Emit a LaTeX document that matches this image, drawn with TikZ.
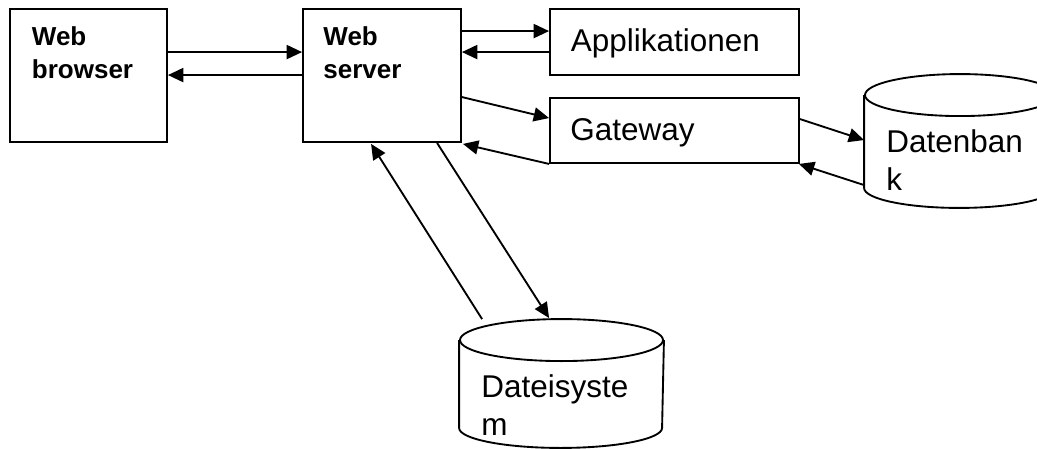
\documentclass[tikz,border=0pt]{standalone}
\usepackage{fontspec}
\setmainfont{Liberation Sans}
\usetikzlibrary{arrows.meta,calc}

\begin{document}
\begin{tikzpicture}[x=0.75pt,y=-0.75pt,line width=1.4pt,
  box/.style={draw, rectangle, inner sep=0pt},
  store/.style={rectangle, inner sep=0pt},
  flow/.style={-{Triangle[length=11.5pt,width=10.5pt]}},
  boldlabel/.style={anchor=base west, inner sep=0pt, align=left,
    font=\bfseries\fontsize{19.5}{24.75}\selectfont},
  plainlabel/.style={anchor=base west, inner sep=0pt, align=left,
    font=\fontsize{23.6}{28.1}\selectfont}]

\useasboundingbox (0,0) rectangle (1037,449);
\clip (0,0) rectangle (1037,449);

% boxes
\node[box, minimum width=157*0.75pt, minimum height=133*0.75pt] (browser) at (88.5,75.5) {};
\node[box, minimum width=158*0.75pt, minimum height=133*0.75pt] (server) at (382,75.5) {};
\node[box, minimum width=249*0.75pt, minimum height=66*0.75pt] (app) at (674.5,42) {};
\node[box, minimum width=249*0.75pt, minimum height=65*0.75pt] (gw) at (674.5,130.5) {};

% data stores (cylinders)
\node[store, minimum width=190*0.75pt, minimum height=132*0.75pt] (db) at (960,141) {};
\node[store, minimum width=203*0.75pt, minimum height=127*0.75pt] (fs) at (561.5,383.5) {};

\draw ([yshift=-21*0.75pt]db.north) ellipse [x radius=95*0.75pt, y radius=21*0.75pt];
\draw ([yshift=-21*0.75pt]db.north west) -- ([yshift=20*0.75pt]db.south west)
  arc[start angle=180, end angle=360, x radius=95*0.75pt, y radius=20*0.75pt]
  -- ([yshift=-21*0.75pt]db.north east);

\draw ([yshift=-21*0.75pt]fs.north) ellipse [x radius=101.5*0.75pt, y radius=21*0.75pt];
\draw ([yshift=-21*0.75pt]fs.north west) -- ([yshift=20*0.75pt]fs.south west)
  arc[start angle=180, end angle=360, x radius=101.5*0.75pt, y radius=20*0.75pt]
  -- ([yshift=-21*0.75pt]fs.north east);

% labels (multi-line labels are placed by the baseline of their last line)
\node[boldlabel] (browsertext) at (31,79) {Web\\browser};
\node[boldlabel] (servertext) at (322.5,78.5) {Web\\server};
\node[plainlabel] (apptext) at (570,52) {Applikationen};
\node[plainlabel] (gwtext) at (569.5,141) {Gateway};
\node[plainlabel] (dbtext) at (885.5,190) {Datenban\\k};
\node[plainlabel] (fstext) at (480.5,435) {Dateisyste\\m};

% connectors
\draw[flow] ($(browser.north east)+(0,44)$) -- ($(server.north west)+(0,44)$);
\draw[flow] ($(server.north west)+(0,67)$) -- ($(browser.north east)+(0,67)$);
\draw[flow] ($(server.north east)+(0,23)$) -- ($(app.north west)+(0,23)$);
\draw[flow] ($(app.north west)+(0,44)$) -- ($(server.north east)+(0,44)$);
\draw[flow] ($(server.north east)+(0,89)$) -- ($(gw.north west)+(0,21)$);
\draw[flow] (gw.south west) -- ($(server.south east)+(1,1)$);
\draw[flow] ($(gw.north east)+(0,22)$) -- ($(db.north west)+(0,66)$);
\draw[flow] ($(db.north west)+(0,111)$) -- ($(gw.south east)+(-1,0)$);
\draw[flow] ($(fs.north west)+(23,0)$) -- ($(server.south west)+(69,1)$);
\draw[flow] ($(server.south west)+(135,0)$) -- ($(fs.north west)+(90,-1)$);

\end{tikzpicture}
\end{document}
